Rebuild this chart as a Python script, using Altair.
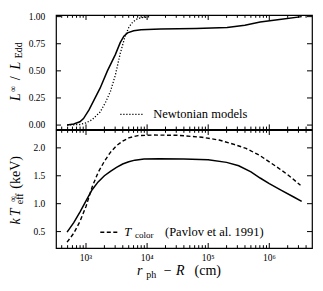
import altair as alt
import pandas as pd

# ---------------- data ----------------
# top panel: L_inf / L_Edd  (GR model, solid)
r_L = [490, 630, 795, 910, 1120, 1410, 1700, 2240, 3020, 3630, 4170, 4790, 6030,
       7940, 16600, 63100, 204000, 398000, 708000, 1580000, 3390000]
L_gr = [0.0, 0.01, 0.03, 0.06, 0.14, 0.25, 0.34, 0.50, 0.65, 0.76, 0.82, 0.85, 0.87,
        0.88, 0.885, 0.89, 0.90, 0.92, 0.95, 0.975, 1.0]

# top panel: Newtonian models (dotted)
r_N = [490, 795, 1000, 1260, 1700, 2090, 2510, 3020, 3630, 4370, 5010, 5620, 6610, 7940, 11200]
L_newt = [0.0, 0.005, 0.02, 0.05, 0.12, 0.21, 0.31, 0.46, 0.66, 0.82, 0.90, 0.94, 0.975, 0.99, 1.0]

# bottom panel: kT_eff (solid)
r_T = [490, 630, 795, 1000, 1260, 1580, 2000, 2510, 3160, 3980, 5010, 6310, 8910, 15800,
       39800, 100000, 200000, 316000, 501000, 708000, 1000000, 1580000, 2510000, 3390000]
T_eff = [0.49, 0.66, 0.85, 1.05, 1.25, 1.39, 1.50, 1.58, 1.65, 1.71, 1.75, 1.78, 1.80, 1.805,
         1.80, 1.785, 1.74, 1.68, 1.57, 1.46, 1.36, 1.24, 1.12, 1.04]

# bottom panel: T_color (dashed)
r_C = [490, 630, 795, 1000, 1260, 1580, 2000, 2510, 3160, 3980, 5010, 7080, 12600, 31600,
       79400, 151000, 251000, 417000, 708000, 1320000, 2000000, 3240000]
T_col = [0.31, 0.47, 0.68, 0.95, 1.30, 1.56, 1.76, 1.92, 2.04, 2.12, 2.18, 2.22, 2.23, 2.225,
         2.19, 2.14, 2.07, 1.99, 1.86, 1.66, 1.52, 1.33]

# ticks and tick labels
x_major = [1e3, 1e4, 1e5, 1e6]
x_major_labels = ["10³", "10⁴", "10⁵", "10⁶"]
x_minor = [400, 500, 600, 700, 800, 900,
           2000, 3000, 4000, 5000, 6000, 7000, 8000, 9000,
           20000, 30000, 40000, 50000, 60000, 70000, 80000, 90000,
           200000, 300000, 400000, 500000, 600000, 700000, 800000, 900000,
           2000000, 3000000, 4000000]
y_top_ticks = [0.0, 0.25, 0.5, 0.75, 1.0]
y_top_labels = ["0.00", "0.25", "0.50", "0.75", "1.00"]
y_bot_ticks = [0.5, 1.0, 1.5, 2.0]
y_bot_labels = ["0.5", "1.0", "1.5", "2.0"]

X_DOMAIN = [322.8, 5.0e6]
Y_TOP = [-0.04, 1.015]
Y_BOT = [0.206, 2.32]

FONT = "Liberation Serif"
W = 256
H_TOP = 114.4
H_BOT = 118

xscale = alt.Scale(type="log", domain=X_DOMAIN, nice=False)
DUMMY = pd.DataFrame({"a": [0]})


def txt(s, x, y, size=14, style="normal", angle=0, align="center", baseline="middle"):
    return alt.Chart(DUMMY).mark_text(
        text=s, font=FONT, fontSize=size, fontStyle=style, angle=angle,
        align=align, baseline=baseline, color="black"
    ).encode(x=alt.value(x), y=alt.value(y))


def line(xs, ys, yscale, dash=None, width=1.5):
    df = pd.DataFrame({"r": xs, "v": ys})
    kw = dict(color="black", strokeWidth=width)
    if dash is not None:
        kw["strokeDash"] = dash
    return alt.Chart(df).mark_line(**kw).encode(
        x=alt.X("r:Q", scale=xscale, axis=None),
        y=alt.Y("v:Q", scale=yscale, axis=None),
        order=alt.Order("r:Q"),
    )


def xticks(vals, dom, H, length, yscale):
    # inward ticks on bottom and top edges, length converted to the y data range
    span = (dom[1] - dom[0]) * length / H
    df = pd.DataFrame({"xt": vals})
    base = alt.Chart(df).mark_rule(color="black", strokeWidth=1)
    x = alt.X("xt:Q", scale=xscale, axis=None)
    top = base.encode(x=x, y=alt.Y(datum=dom[1], scale=yscale, axis=None),
                      y2=alt.Y2(datum=dom[1] - span))
    bot = base.encode(x=x, y=alt.Y(datum=dom[0], scale=yscale, axis=None),
                      y2=alt.Y2(datum=dom[0] + span))
    return [top, bot]


def yticks(vals, yscale, length=5):
    span_lo = X_DOMAIN[0] * (X_DOMAIN[1] / X_DOMAIN[0]) ** (length / W)
    span_hi = X_DOMAIN[1] / (X_DOMAIN[1] / X_DOMAIN[0]) ** (length / W)
    df = pd.DataFrame({"yt": vals})
    base = alt.Chart(df).mark_rule(color="black", strokeWidth=1)
    y = alt.Y("yt:Q", scale=yscale, axis=None)
    left = base.encode(y=y, x=alt.X(datum=X_DOMAIN[0], scale=xscale, axis=None),
                       x2=alt.X2(datum=span_lo))
    right = base.encode(y=y, x=alt.X(datum=X_DOMAIN[1], scale=xscale, axis=None),
                        x2=alt.X2(datum=span_hi))
    return [left, right]


def ylabels(vals, labs, yscale):
    df = pd.DataFrame({"yl": vals, "lab": labs})
    return alt.Chart(df).mark_text(font=FONT, fontSize=9.5, align="right", baseline="middle",
                                   color="black").encode(
        y=alt.Y("yl:Q", scale=yscale, axis=None), x=alt.value(-10.7), text="lab:N")


def xlabels(vals, labs, H):
    df = pd.DataFrame({"xl": vals, "lab": labs})
    return alt.Chart(df).mark_text(font=FONT, fontSize=9.5, align="center", baseline="top",
                                   color="black").encode(
        x=alt.X("xl:Q", scale=xscale, axis=None), y=alt.value(H + 4.5), text="lab:N")


# ---------------- top panel ----------------
ys_top = alt.Scale(domain=Y_TOP, nice=False, zero=False)
top_layers = [
    line(r_L, L_gr, ys_top, width=1.5),
    line(r_N, L_newt, ys_top, dash=[1.2, 1.8], width=1.3),
]
top_layers += xticks(x_major, Y_TOP, H_TOP, 5, ys_top) + xticks(x_minor, Y_TOP, H_TOP, 2.8, ys_top)
top_layers += yticks(y_top_ticks, ys_top)
top_layers += [ylabels(y_top_ticks, y_top_labels, ys_top)]
# legend
top_layers += [
    alt.Chart(DUMMY).mark_rule(color="black", strokeWidth=1.3, strokeDash=[1.2, 1.8]).encode(
        x=alt.value(64.3), x2=alt.value(87.3), y=alt.value(99.4)),
    txt("Newtonian models", 144.3, 99.4, size=12.5),
]
# y title  L^inf / L_Edd
top_layers += [
    txt("L", -40.2, 82.2, size=14, style="italic", angle=270),
    txt("∞", -43.2, 73.7, size=9, angle=270),
    txt("/", -40.2, 63.2, size=14, angle=270),
    txt("L", -40.2, 50.7, size=14, style="italic", angle=270),
    txt("Edd", -36.7, 35.2, size=10, angle=270),
]
top = alt.layer(*top_layers).properties(width=W, height=H_TOP)

# ---------------- bottom panel ----------------
ys_bot = alt.Scale(domain=Y_BOT, nice=False, zero=False)
bot_layers = [
    line(r_T, T_eff, ys_bot, width=1.5),
    line(r_C, T_col, ys_bot, dash=[4, 2.5], width=1.4),
]
bot_layers += xticks(x_major, Y_BOT, H_BOT, 5, ys_bot) + xticks(x_minor, Y_BOT, H_BOT, 2.8, ys_bot)
bot_layers += yticks(y_bot_ticks, ys_bot)
bot_layers += [ylabels(y_bot_ticks, y_bot_labels, ys_bot),
               xlabels(x_major, x_major_labels, H_BOT)]
bot_layers += [
    alt.Chart(DUMMY).mark_rule(color="black", strokeWidth=1.4, strokeDash=[4, 2.5]).encode(
        x=alt.value(44.3), x2=alt.value(62.3), y=alt.value(102.3)),
    txt("T", 71.8, 102.3, size=12.5, style="italic"),
    txt("color", 88.3, 105.3, size=9),
    txt("(Pavlov et al. 1991)", 158.3, 102.3, size=12.5),
]
# y title  kT_eff^inf (keV)
bot_layers += [
    txt("k", -40.2, 91.3, size=14, style="italic", angle=270),
    txt("T", -40.2, 82.3, size=14, style="italic", angle=270),
    txt("∞", -43.2, 68.8, size=9, angle=270),
    txt("eff", -35.7, 68.8, size=10, angle=270),
    txt("(keV)", -40.2, 42.3, size=14, angle=270),
]
# x title  r_ph - R (cm)
bot_layers += [
    txt("r", 83.8, 145.3, size=14, style="italic", baseline="alphabetic"),
    txt("ph", 95.3, 148.3, size=10, baseline="alphabetic"),
    txt("−", 111.8, 145.3, size=14, baseline="alphabetic"),
    txt("R", 124.3, 145.3, size=14, style="italic", baseline="alphabetic"),
    txt("(cm)", 151.8, 145.3, size=14, baseline="alphabetic"),
]
bottom = alt.layer(*bot_layers).properties(width=W, height=H_BOT)

chart = alt.vconcat(top, bottom, spacing=0, bounds="flush").properties(
    padding={"left": 0, "top": 3, "right": 0.5, "bottom": 4}
).configure_view(stroke="black", strokeWidth=1.2)

chart.save("out.html", embed_options={"renderer": "svg", "actions": False})
